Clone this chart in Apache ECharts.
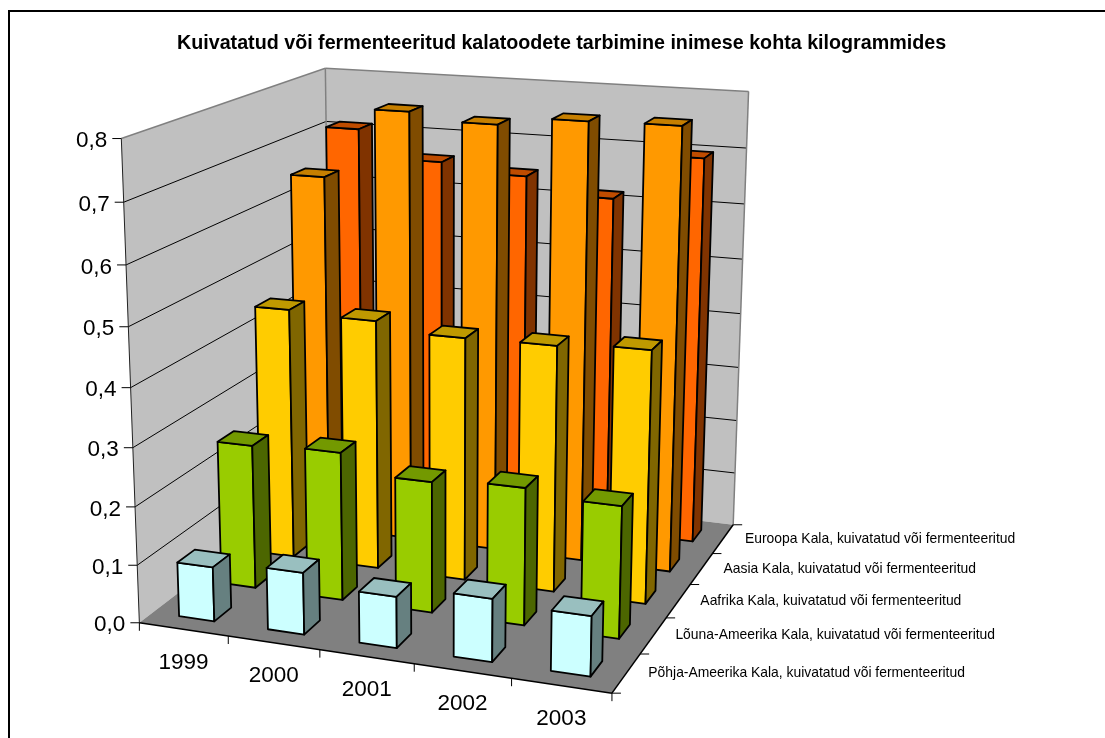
<!DOCTYPE html>
<html>
<head>
<meta charset="utf-8">
<style>
  html, body { margin: 0; padding: 0; background: #fff; }
  #chart { width: 1105px; height: 738px; }
</style>
<script src="https://cdn.jsdelivr.net/npm/echarts@6/dist/echarts.min.js"></script>
</head>
<body>
<div id="chart"></div>
<script>
const chartTitle = 'Kuivatatud või fermenteeritud kalatoodete tarbimine inimese kohta kilogrammides'
const years = ['1999', '2000', '2001', '2002', '2003']
const valueTicks = [0, 0.1, 0.2, 0.3, 0.4, 0.5, 0.6, 0.7, 0.8]

// front row first
const rowNames = [
  'Põhja-Ameerika Kala, kuivatatud või fermenteeritud',
  'Lõuna-Ameerika Kala, kuivatatud või fermenteeritud',
  'Aafrika Kala, kuivatatud või fermenteeritud',
  'Aasia Kala, kuivatatud või fermenteeritud',
  'Euroopa Kala, kuivatatud või fermenteeritud'
]
const pohjaAmeerika = [0.094, 0.106, 0.087, 0.106, 0.1]
const lounaAmeerika = [0.253, 0.259, 0.227, 0.236, 0.225]
const aafrika = [0.449, 0.444, 0.429, 0.431, 0.439]
const aasia = [0.651, 0.776, 0.763, 0.778, 0.78]
const euroopa = [0.71, 0.66, 0.645, 0.616, 0.698]
const rows = [pohjaAmeerika, lounaAmeerika, aafrika, aasia, euroopa]

// front, top, side
const rowColors = [
  ['#CCFFFF', '#99BFBF', '#668080'],
  ['#99CC00', '#739900', '#4C6600'],
  ['#FFCC00', '#BF9900', '#806600'],
  ['#FF9900', '#C67F00', '#804C00'],
  ['#FF6600', '#BF4C00', '#803300']
]

const maxValue = 0.8
const barSize = 0.4 // part of a cell, gap 150%

// where the plot box landed, cube coords -> pixels
const boxCorners = [
  [0, 0, 0, 139.5, 624],
  [1, 0, 0, 611.7, 691],
  [1, 1, 0, 733, 526],
  [0, 1, 0, 331, 474],
  [0, 0, 1, 121.7, 137.7],
  [0, 1, 1, 325, 69],
  [1, 1, 1, 748, 91],
  [0, 0, 0.875, 123.5, 202.7],
  [0, 0, 0.125, 137.5, 565],
  [0.2, 0, 0, 228, 636.7],
  [0.4, 0, 0, 320, 650],
  [0.6, 0, 0, 414, 665],
  [0.8, 0, 0, 510.7, 677.7],
  [1, 0.2, 0, 640.7, 653.3],
  [1, 0.4, 0, 666.7, 617.7],
  [1, 0.6, 0, 690.7, 584.3],
  [1, 0.8, 0, 711.7, 555],
  [1, 1, 0.875, 747, 148],
  [1, 1, 0.75, 745, 204]
]

function solve(a, b) {
  const n = b.length
  for (let i = 0; i < n; i++) {
    let p = i
    for (let r = i + 1; r < n; r++) {
      if (Math.abs(a[r][i]) > Math.abs(a[p][i])) p = r
    }
    ;[a[i], a[p]] = [a[p], a[i]]
    ;[b[i], b[p]] = [b[p], b[i]]
    for (let r = i + 1; r < n; r++) {
      const f = a[r][i] / a[i][i]
      for (let c = i; c < n; c++) a[r][c] -= f * a[i][c]
      b[r] -= f * b[i]
    }
  }
  const out = new Array(n).fill(0)
  for (let i = n - 1; i >= 0; i--) {
    let s = b[i]
    for (let c = i + 1; c < n; c++) s -= a[i][c] * out[c]
    out[i] = s / a[i][i]
  }
  return out
}

// least squares fit of the perspective matrix
function fitCamera(points) {
  const rowsA = []
  const rowsB = []
  points.forEach(([x, y, z, px, py]) => {
    const u = px / 1000
    const v = py / 1000
    rowsA.push([x, y, z, 1, 0, 0, 0, 0, -u * x, -u * y, -u * z])
    rowsB.push(u)
    rowsA.push([0, 0, 0, 0, x, y, z, 1, -v * x, -v * y, -v * z])
    rowsB.push(v)
  })
  const n = 11
  const ata = []
  const atb = []
  for (let i = 0; i < n; i++) {
    ata.push([])
    let s = 0
    for (let j = 0; j < n; j++) {
      let t = 0
      rowsA.forEach((r) => { t += r[i] * r[j] })
      ata[i].push(t)
    }
    rowsA.forEach((r, k) => { s += r[i] * rowsB[k] })
    atb.push(s)
  }
  return solve(ata, atb)
}

const cam = fitCamera(boxCorners)

function project(x, y, z) {
  const w = cam[8] * x + cam[9] * y + cam[10] * z + 1
  return [
    1000 * (cam[0] * x + cam[1] * y + cam[2] * z + cam[3]) / w,
    1000 * (cam[4] * x + cam[5] * y + cam[6] * z + cam[7]) / w
  ]
}

// cat and row in cell units, value in data units
function toPixel(cat, row, value) {
  return project(cat / years.length, row / rowNames.length, value / maxValue)
}

function poly(points, fill, stroke, lineWidth) {
  return {
    type: 'polygon',
    shape: { points },
    style: { fill, stroke, lineWidth, lineJoin: 'round' }
  }
}

function line(a, b, stroke, lineWidth) {
  return {
    type: 'line',
    shape: { x1: a[0], y1: a[1], x2: b[0], y2: b[1] },
    style: { stroke, lineWidth }
  }
}

function label(text, pos, size, align) {
  return {
    type: 'text',
    style: {
      text,
      x: pos[0],
      y: pos[1],
      fill: '#000',
      font: size + 'px "Liberation Sans"',
      align,
      verticalAlign: 'middle'
    }
  }
}

function renderBox() {
  const nc = years.length
  const nr = rowNames.length
  const a = toPixel(0, 0, 0)
  const b = toPixel(nc, 0, 0)
  const c = toPixel(nc, nr, 0)
  const d = toPixel(0, nr, 0)
  const aTop = toPixel(0, 0, maxValue)
  const cTop = toPixel(nc, nr, maxValue)
  const dTop = toPixel(0, nr, maxValue)
  const kids = [
    poly([a, aTop, dTop, d], '#C0C0C0', 'none', 0),
    poly([d, dTop, cTop, c], '#C0C0C0', 'none', 0),
    poly([a, b, c, d], '#808080', 'none', 0)
  ]
  valueTicks.slice(1, -1).forEach((t) => {
    kids.push(line(toPixel(0, 0, t), toPixel(0, nr, t), '#000', 1))
    kids.push(line(toPixel(0, nr, t), toPixel(nc, nr, t), '#000', 1))
  })
  kids.push(line(aTop, dTop, '#808080', 1.5))
  kids.push(line(dTop, cTop, '#808080', 1.5))
  kids.push(line(cTop, c, '#808080', 1.5))
  kids.push(line(dTop, d, '#808080', 1.5))
  kids.push(line(a, aTop, '#222', 1))
  kids.push(line(a, b, '#000', 1.5))
  kids.push(line(b, c, '#000', 1.5))
  valueTicks.forEach((t) => {
    const p = toPixel(0, 0, t)
    kids.push(line([p[0] - 9, p[1]], p, '#000', 1))
    kids.push(label(t.toFixed(1).replace('.', ','), [p[0] - 14, p[1] + 2.5], 22.5, 'right'))
  })
  for (let i = 0; i <= nc; i++) {
    const p = toPixel(i, 0, 0)
    kids.push(line(p, [p[0], p[1] + 8], '#000', 1))
  }
  years.forEach((y, i) => {
    const p = toPixel(i + 0.5, 0, 0)
    kids.push(label(y, [p[0], p[1] + 33], 22.5, 'center'))
  })
  for (let i = 0; i <= nr; i++) {
    const p = toPixel(nc, i, 0)
    kids.push(line(p, [p[0] + 9, p[1]], '#000', 1))
  }
  rowNames.forEach((name, i) => {
    const p = toPixel(nc, i + 0.5, 0)
    kids.push(label(name, [p[0] + 22, p[1]], 13.9, 'left'))
  })
  return { type: 'group', children: kids }
}

function renderBar(rowIndex) {
  return (params, api) => {
    const cat = api.value(0)
    const v = api.value(1)
    const x0 = cat + (1 - barSize) / 2
    const x1 = x0 + barSize
    const y0 = rowIndex + (1 - barSize) / 2
    const y1 = y0 + barSize
    const colors = rowColors[rowIndex]
    return {
      type: 'group',
      children: [
        poly([toPixel(x0, y0, 0), toPixel(x1, y0, 0), toPixel(x1, y0, v), toPixel(x0, y0, v)], colors[0], '#000', 1.8),
        poly([toPixel(x0, y0, v), toPixel(x1, y0, v), toPixel(x1, y1, v), toPixel(x0, y1, v)], colors[1], '#000', 1.8),
        poly([toPixel(x1, y0, 0), toPixel(x1, y1, 0), toPixel(x1, y1, v), toPixel(x1, y0, v)], colors[2], '#000', 1.8)
      ]
    }
  }
}

const series = [{
  type: 'custom',
  name: 'box',
  coordinateSystem: 'none',
  silent: true,
  renderItem: renderBox,
  data: [[0]]
}]
// back rows get drawn first
for (let r = rows.length - 1; r >= 0; r--) {
  series.push({
    type: 'custom',
    name: rowNames[r],
    coordinateSystem: 'none',
    silent: true,
    renderItem: renderBar(r),
    data: rows[r].map((v, i) => [i, v])
  })
}

const chart = echarts.init(document.getElementById('chart'), null, { renderer: 'canvas' })
chart.setOption({
  animation: false,
  backgroundColor: '#fff',
  title: {
    text: chartTitle,
    left: 177,
    top: 33.5,
    padding: 0,
    textStyle: { fontFamily: 'Liberation Sans', fontWeight: 'bold', fontSize: 19.7, color: '#000' }
  },
  graphic: [{
    type: 'rect',
    silent: true,
    shape: { x: 9, y: 11, width: 1300, height: 900 },
    style: { fill: 'none', stroke: '#000', lineWidth: 2 }
  }],
  series
})
</script>
</body>
</html>
